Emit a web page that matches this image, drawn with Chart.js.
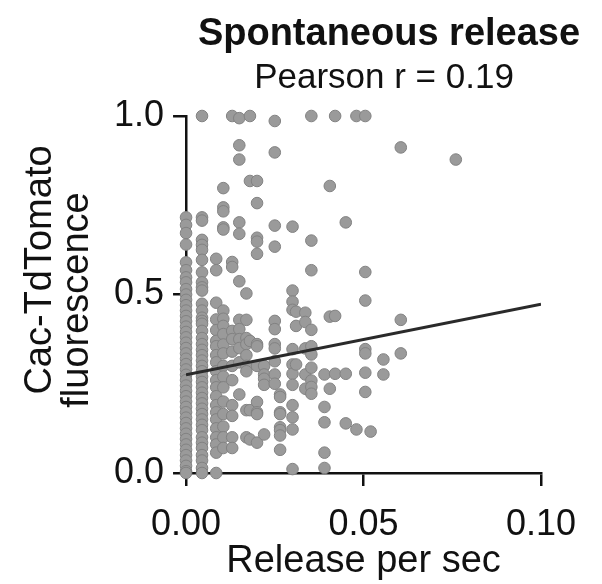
<!DOCTYPE html>
<html>
<head>
<meta charset="utf-8">
<script src="https://cdn.jsdelivr.net/npm/chart.js@4.4.0/dist/chart.umd.min.js"></script>
<style>
  html, body { margin: 0; padding: 0; background: #fff; }
  #wrap { width: 602px; height: 584px; }
</style>
</head>
<body>
<div id="wrap"><canvas id="scatter" width="602" height="584"></canvas></div>
<script>
// release per sec columns (x) and the fluorescence values seen in each column (y)
const releaseCols = [0, 0.0045, 0.0085, 0.0105, 0.013, 0.015, 0.017, 0.018, 0.020, 0.022,
  0.025, 0.0265, 0.030, 0.031, 0.0336, 0.0353, 0.039, 0.0405, 0.042, 0.045,
  0.048, 0.0505, 0.052, 0.0556, 0.0605, 0.076];

const fluorByCol = [
  [0.716, 0.695, 0.672, 0.64, 0.59, 0.568, 0.548, 0.534, 0.515, 0.5, 0.485, 0.47, 0.455, 0.44,
   0.425, 0.41, 0.395, 0.38, 0.365, 0.35, 0.335, 0.32, 0.305, 0.29, 0.275, 0.26, 0.245, 0.23,
   0.215, 0.2, 0.185, 0.17, 0.155, 0.14, 0.125, 0.11, 0.095, 0.08, 0.065, 0.05, 0.035, 0.02, 0.005, 0.0],
  [1.0, 0.716, 0.707, 0.653, 0.639, 0.625, 0.597, 0.562, 0.534, 0.52, 0.511, 0.474, 0.455, 0.435,
   0.426, 0.418, 0.398, 0.378, 0.361, 0.345, 0.33, 0.315, 0.3, 0.285, 0.27, 0.255, 0.24, 0.225,
   0.21, 0.195, 0.18, 0.165, 0.15, 0.135, 0.12, 0.1, 0.085, 0.07, 0.05, 0.035, 0.014, 0.0],
  [0.6, 0.568, 0.477, 0.43, 0.4, 0.37, 0.355, 0.33, 0.31, 0.285, 0.26, 0.24, 0.215, 0.19, 0.17,
   0.15, 0.125, 0.1, 0.08, 0.057, 0.0],
  [0.798, 0.744, 0.733, 0.688, 0.682, 0.455, 0.432, 0.412, 0.389, 0.36, 0.335, 0.3, 0.27, 0.24,
   0.2, 0.165, 0.13, 0.1, 0.07],
  [1.0, 0.591, 0.577, 0.398, 0.375, 0.34, 0.3, 0.26, 0.19, 0.16, 0.1, 0.07],
  [0.994, 0.918, 0.878, 0.702, 0.67, 0.537, 0.429, 0.403, 0.375, 0.35, 0.31, 0.22],
  [0.503, 0.429, 0.378, 0.361, 0.33, 0.3, 0.285, 0.176, 0.1],
  [1.0, 0.818, 0.37, 0.176, 0.094],
  [0.818, 0.756, 0.659, 0.648, 0.614, 0.361, 0.355, 0.3, 0.199, 0.17, 0.165, 0.085],
  [0.3, 0.276, 0.264, 0.247, 0.108],
  [0.986, 0.898, 0.693, 0.634, 0.426, 0.403, 0.361, 0.349, 0.313, 0.276, 0.25],
  [0.22, 0.213, 0.17, 0.165, 0.128, 0.12, 0.105, 0.065],
  [0.69, 0.511, 0.48, 0.457, 0.347, 0.304, 0.278, 0.247, 0.19, 0.156, 0.122, 0.011],
  [0.452, 0.412, 0.304],
  [0.449, 0.423, 0.349, 0.276, 0.236],
  [1.0, 0.651, 0.568, 0.401, 0.355, 0.332, 0.295, 0.259, 0.241, 0.222],
  [0.276, 0.185, 0.142, 0.057, 0.014],
  [0.804, 0.438, 0.236],
  [1.0, 0.44, 0.278],
  [0.702, 0.278, 0.139],
  [1.0, 0.122],
  [1.0, 0.563, 0.483, 0.347, 0.335, 0.281, 0.227],
  [0.116],
  [0.318, 0.276],
  [0.912, 0.429, 0.335],
  [0.878]
];

// linear fit end points
const fitX = [0, 0.1];
const fitY = [0.275, 0.473];

const xTicks = [0, 0.05, 0.1];
const yTicks = [0, 0.5, 1.0];

const points = [];
releaseCols.forEach((x, i) => {
  fluorByCol[i].forEach((y) => points.push({ x: x, y: y }));
});
const fitLine = fitX.map((x, i) => ({ x: x, y: fitY[i] }));

const ink = "#111";
const FONT = '"Liberation Sans", Arial, Helvetica, sans-serif';
Chart.defaults.font.family = FONT;
Chart.defaults.color = ink;

// title, subtitle and the two-line y title sit off-centre in the figure,
// so they are drawn here instead of by the built-in title boxes
const figureText = {
  id: "figureText",
  afterDraw(chart) {
    const ctx = chart.ctx;
    ctx.save();
    ctx.fillStyle = ink;
    ctx.textAlign = "center";
    ctx.textBaseline = "alphabetic";
    ctx.font = "bold 38px " + FONT;
    ctx.fillText("Spontaneous release", 389, 45);
    ctx.font = "35px " + FONT;
    ctx.fillText("Pearson r = 0.19", 384, 88);

    ctx.font = "38px " + FONT;
    ctx.translate(51, 270);
    ctx.rotate(-Math.PI / 2);
    ctx.fillText("Cac-TdTomato", 0, 0);
    ctx.fillText("fluorescence", -30, 37);
    ctx.restore();
  },
};

new Chart(document.getElementById("scatter"), {
  type: "scatter",
  data: {
    datasets: [
      {
        type: "line",
        data: fitLine,
        borderColor: "#2a2a2a",
        borderWidth: 3,
        pointRadius: 0,
        order: 0,
      },
      {
        data: points,
        pointRadius: 5.8,
        backgroundColor: "#9a9a9a",
        borderColor: "#828282",
        borderWidth: 1,
        clip: false,
        order: 1,
      },
    ],
  },
  options: {
    responsive: false,
    animation: false,
    layout: { padding: { left: 105, right: 61, top: 116, bottom: 2 } },
    plugins: {
      legend: { display: false },
      tooltip: { enabled: false },
    },
    scales: {
      x: {
        type: "linear",
        min: 0,
        max: 0.1,
        afterBuildTicks: (axis) => {
          axis.ticks = xTicks.map((v) => ({ value: v }));
        },
        ticks: {
          callback: (v) => v.toFixed(2),
          font: { size: 36, lineHeight: 1.0 },
          padding: 21,
          maxRotation: 0,
        },
        grid: { drawOnChartArea: false, tickLength: 13, color: ink, lineWidth: 2.5 },
        border: { color: ink, width: 2.5 },
        title: {
          display: true,
          text: "Release per sec",
          font: { size: 38, lineHeight: 1.0 },
          padding: { top: -21, bottom: 1 },
        },
      },
      y: {
        min: 0,
        max: 1,
        afterBuildTicks: (axis) => {
          axis.ticks = yTicks.map((v) => ({ value: v }));
        },
        ticks: {
          callback: (v) => v.toFixed(1),
          font: { size: 36, lineHeight: 1.0 },
          padding: 9,
        },
        grid: { drawOnChartArea: false, tickLength: 13, color: ink, lineWidth: 2.5 },
        border: { color: ink, width: 2.5 },
      },
    },
  },
  plugins: [figureText],
});
</script>
</body>
</html>
